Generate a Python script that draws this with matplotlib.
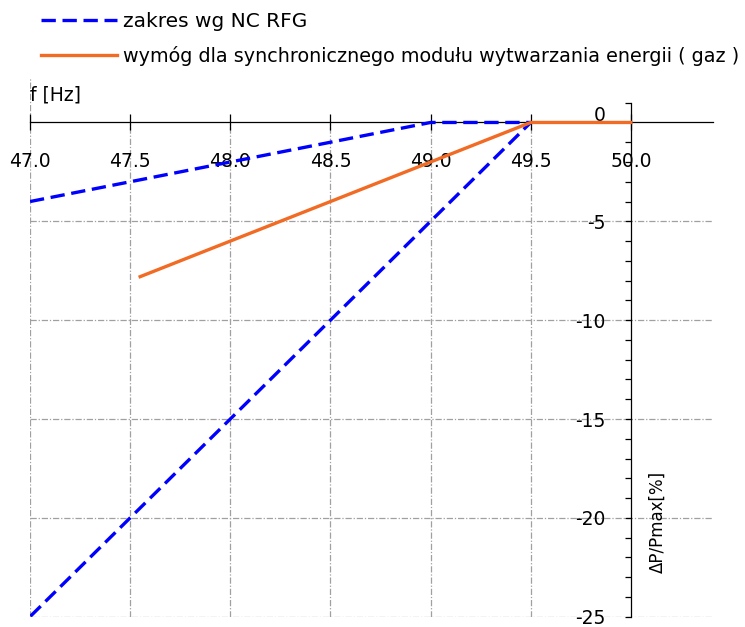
import matplotlib
matplotlib.use("Agg")
import matplotlib.pyplot as plt
import matplotlib.transforms as mtransforms
import numpy as np

plt.rcParams['font.family'] = ['DejaVu Sans', 'Noto Sans CJK SC']

# Data
nc_rfg_f = [47.0, 49.0, 49.5, 47.0]
nc_rfg_p = [-4.0, 0.0, 0.0, -25.0]
gas_f = [47.55, 49.5, 50.0]
gas_p = [-7.8, 0.0, 0.0]
x_ticks = [47.0, 47.5, 48.0, 48.5, 49.0, 49.5, 50.0]
x_tick_labels = ["47.0", "47.5", "48.0", "48.5", "49.0", "49.5", "50.0"]
y_major = [-25, -20, -15, -10, -5, 0]
y_major_labels = ["-25", "-20", "-15", "-10", "-5", "0"]
y_minor = list(range(-25, 2))
label_nc = "zakres wg NC RFG"
label_gas = "wymóg dla synchronicznego modułu wytwarzania energii ( gaz )"

W, H = 745, 627
fig = plt.figure(figsize=(W / 100, H / 100), dpi=100)
left, right, bottom, top = 30 / W, 713 / W, 1 - 616.7 / H, 1 - 77 / H
ax = fig.add_axes([left, bottom, right - left, top - bottom])
ax.set_xlim(47.0, 50.41)
ax.set_ylim(-25, 2.3)

grid_kw = dict(color='#a0a0a0', linewidth=0.9, linestyle=(0, (5, 1.5, 1, 1.5)))
# horizontal grid
for yv in y_major[:-1]:
    ax.axhline(yv, **grid_kw, zorder=0)
# vertical grid
ax.vlines(x_ticks[1:-1], -25, 0, **grid_kw, zorder=0)
ax.vlines([x_ticks[0]], -25, 2.3, **grid_kw, zorder=0)

ax.plot(nc_rfg_f, nc_rfg_p, color='#0000ff', linewidth=2.4,
        dashes=(4.3, 2.0), label=label_nc, zorder=3, solid_capstyle='butt')
ax.plot(gas_f, gas_p, color='#f26b24', linewidth=2.4, label=label_gas, zorder=4)

for s in ['top', 'right']:
    ax.spines[s].set_visible(False)
ax.spines['bottom'].set_position(('data', 0))
ax.spines['left'].set_position(('data', 50.0))
ax.spines['left'].set_bounds(-25, 1)
ax.spines['bottom'].set_linewidth(0.9)
ax.spines['left'].set_linewidth(0.9)

ax.set_xticks(x_ticks)
ax.set_xticklabels(x_tick_labels)
ax.tick_params(axis='x', direction='inout', length=11, width=0.9, pad=16,
               labelsize=13.5)
ax.set_yticks(y_major)
ax.set_yticklabels(y_major_labels)
ax.set_yticks(y_minor, minor=True)
ax.tick_params(axis='y', which='both', direction='out', length=4.5, width=0.9,
               pad=14, labelsize=13.5)

for lab in ax.get_yticklabels():
    if lab.get_text() == '0':
        lab.set_transform(lab.get_transform() +
                          mtransforms.ScaledTranslation(0, 9 / 100, fig.dpi_scale_trans))

fig.text(30 / W, 1 - 95 / H, "f [Hz]", fontsize=13.5, ha='left', va='center')
fig.text(658 / W, 1 - 522 / H, "ΔP/Pmax[%]", fontsize=12, rotation=90,
         ha='center', va='center')

leg = fig.legend(loc='upper left', bbox_to_anchor=(41 / W, 1 - 12 / H),
                 frameon=False, fontsize=14, handlelength=3.9,
                 handletextpad=0.3, labelspacing=0.75, borderpad=0,
                 borderaxespad=0)
texts = leg.get_texts()
texts[0].set_fontsize(14.5)
texts[1].set_fontsize(13.8)

fig.savefig("out.png", dpi=100)
